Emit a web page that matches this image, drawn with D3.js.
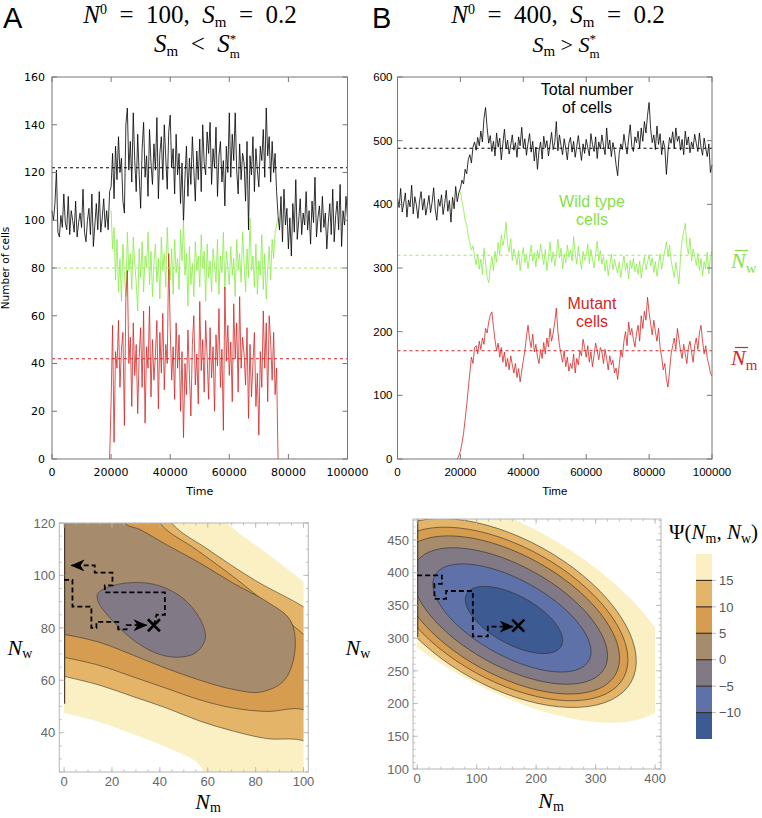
<!DOCTYPE html>
<html><head><meta charset="utf-8">
<script src="https://cdn.jsdelivr.net/npm/d3@7"></script>
<style>body{margin:0;background:#fff}text{white-space:pre}</style>
</head><body>
<script>
// ================= DATA =================
const tStep = 500;
const timeTicks = [0,20000,40000,60000,80000,100000];
const yTicksA = [0,20,40,60,80,100,120,140,160];
const yTicksB = [0,100,200,300,400,500,600];

// Panel A (N0=100) – total cells, t = 0 .. 100000
const aTotalStart = 0;
const aTotal = [
104,100,107,121,95,93,102,97,111,99,
96,110,94,104,100,95,108,93,99,103,
97,113,95,91,100,105,94,111,89,98,
107,96,112,95,101,109,97,104,96,112,
114,128,109,131,117,135,120,126,108,103,
140,147,121,133,116,145,125,112,136,119,
105,130,141,118,127,110,138,124,115,132,
121,143,109,128,135,117,140,126,113,137,
144,122,130,111,136,119,128,107,124,99,
118,131,110,126,115,135,121,108,129,117,
134,112,140,124,119,137,128,141,115,130,
122,139,110,127,133,116,125,106,131,120,
145,118,136,125,145,121,111,132,117,128,
124,108,133,96,127,119,135,112,130,121,
114,131,125,138,118,147,127,135,116,133,
120,128,112,
102,96,110,91,113,98,105,88,101,85,
107,95,117,92,100,109,94,103,98,112,
96,104,90,108,99,118,93,101,106,95,
110,97,103,88,99,107,94,113,91,102,
108,96,115,89,104,98,110,101];
// wild type, t = 20000 .. 76500
const aWildStart = 20000;
const aWild = [
104,88,97,75,92,70,84,66,90,77,
68,95,79,86,71,93,82,74,62,88,
76,91,70,85,80,95,73,87,68,82,
90,74,84,67,93,79,86,72,97,81,
75,88,69,92,78,84,71,96,83,100,
77,86,64,89,73,82,68,91,79,85,
72,94,80,87,66,90,76,83,70,88,
81,74,92,69,85,78,95,71,87,80,
73,89,77,84,68,92,79,86,74,95,
82,70,88,76,101,79,85,72,90,69,
83,77,94,71,86,67,80,89,75,92,
84,95,98,102];
// mutant, t = 19500 .. 76500
const aMutStart = 19500;
const aMut = [0,
24,56,7,45,38,58,30,46,53,14,
68,79,40,51,22,57,35,48,19,43,
55,30,62,15,47,38,64,26,50,33,
44,58,21,53,36,61,29,48,40,86,
55,33,47,25,57,38,52,20,45,9,
40,27,54,35,18,48,60,31,44,23,
66,37,50,28,58,43,25,55,34,47,
20,52,39,63,30,46,12,72,41,56,
35,49,24,65,42,57,28,68,38,51,
44,31,55,17,48,26,40,53,22,36,
10,45,30,62,38,57,24,60,49,33,
53,27,38,
0];
const aMeans = [122, 80, 42];

// Panel B (N0=400)
const bTotalStart = 0;
const bTotal = [
410,395,425,388,402,418,380,407,396,430,
385,412,399,378,405,420,391,409,383,398,
414,387,403,426,392,375,408,397,415,384,
401,422,389,406,372,411,393,428,404,418,
425,438,432,455,448,470,478,465,490,498,
485,505,492,515,498,535,552,520,496,508,
483,499,476,512,490,504,470,495,518,487,
501,479,493,509,485,497,474,506,492,521,
488,503,477,496,511,482,499,468,490,455,
484,498,471,507,489,500,476,494,513,486,
497,530,484,509,492,478,503,488,470,496,
505,482,499,474,491,508,487,469,495,480,
502,489,476,511,494,483,506,472,498,487,
509,492,478,520,488,501,475,497,484,462,
445,480,495,486,510,493,479,504,525,491,
483,506,497,515,488,520,499,530,512,540,
560,518,497,509,486,523,494,511,478,500,
489,447,482,505,496,514,488,520,499,507,
485,502,478,515,493,506,481,498,489,510,
496,483,512,490,477,504,488,475,495,450,
462];
const bWildStart = 20000;
const bWild = [
420,405,392,375,368,350,340,328,335,318,
305,322,298,314,290,331,308,285,277,300,
318,296,326,309,340,321,352,335,347,372,
338,325,346,312,330,319,305,327,296,315,
332,308,321,299,317,336,311,324,302,328,
314,337,320,305,329,296,318,341,309,325,
303,320,345,316,331,299,322,308,336,317,
328,311,349,323,306,334,315,298,326,312,
320,338,307,329,314,300,323,342,311,327,
306,318,295,313,288,305,322,297,314,301,
292,310,285,303,319,296,308,283,312,299,
315,294,306,290,311,284,302,318,297,309,
321,303,316,293,310,287,305,322,298,313,
327,341,318,336,312,298,285,309,292,275,
318,344,358,370,335,322,347,311,330,318,
304,323,296,315,287,310,299,325,291,318,
327];
const bMutStart = 19000;
const bMut = [0,5,
12,25,40,62,85,110,135,160,150,175,
178,165,185,172,190,180,205,198,215,226,
231,208,187,170,182,160,175,152,168,145,
158,140,162,148,135,150,128,142,121,138,
155,170,192,210,188,175,196,168,180,160,
150,172,158,183,165,190,176,205,185,198,
215,237,200,178,165,152,170,145,160,138,
150,142,165,135,158,148,170,162,188,175,
160,178,152,168,145,163,182,170,156,175,
168,150,172,158,140,162,148,155,135,143,
125,148,170,160,185,200,178,215,195,205,
188,176,198,210,185,225,205,232,218,254,
230,212,195,218,200,185,205,175,160,140,
150,125,113,138,165,178,190,172,205,188,
170,158,180,165,150,175,185,168,152,178,
190,172,198,210,185,165,178,158,148,135,
130];
const bMeans = [488, 320, 170];

// Potential Ψ levels and band colours
const psiLevels = [20, 15, 10, 5, 0, -5, -10];
const psiFill = ['#FBF0C4','#E4B569','#D69D50','#A68B6C','#817A86','#5E71A8','#3D5A93'];
const psiTicks = [15, 10, 5, 0, -5, -10];

// Panel A potential: region {Ψ < level} outlines as [Nm, Nw] points
const aRegion20 = [[-5,135],[55,135],[68,120],[84.7,108.5],[100,97.7],[112,89],[112,15],[62,15],[56.8,27.5],[42.8,34.4],[28.9,39.4],[14.9,44],[0,47.5],[-5,48.5]];
const aRegion15 = [[-5,135],[38,135],[45,120],[60,110],[80,98],[100,88],[112,80],[112,30],[100,36.9],[84.7,37.75],[70.7,40.6],[56.8,44.4],[42.8,49.4],[28.9,53.75],[14.9,58.1],[0,61.5],[-5,62.5]];
const aRegion10 = [[-5,135],[34,135],[40,120],[55,110],[70,100],[85,89],[100,77.5],[112,68],[112,40],[100,48.75],[84.7,48.1],[70.7,49.4],[56.8,52.5],[42.8,56.9],[29,61.25],[15,65.6],[0,68.75],[-5,69.5]];
const aRegion5 = [[-5,135],[20,135],[25.4,120],[31.7,117.5],[42.8,111.7],[56.8,104.7],[70.7,97],[84.7,90],[94.4,83],[96.5,72],[92,60],[82,55.5],[70.7,56.5],[56.8,60],[42.8,64.5],[29,69.5],[15,74.4],[0,77.5],[-5,78]];
const aRegion0 = [[14,93],[20,96],[30,97.3],[40,96],[50,91],[57,83],[59,76],[55,70.5],[47,68.8],[38,70.5],[28,76],[19,84],[14.5,89.5]];
const aRegions = [aRegion20, aRegion15, aRegion10, aRegion5, aRegion0];
const aMin = [37.5, 81];
const aPath1 = [[37.5,81],[38.6,85],[42.1,85],[42.1,93.5],[17,93.5],[17,96.2],[20.2,96.2],[20.2,101.1],[12.8,101.1],[12.8,103.8],[3.1,103.8]];
const aPath2 = [[0,98.3],[3.5,98.3],[3.5,88.1],[11.4,88.1],[11.4,80],[13.5,80],[13.5,82.25],[22.6,82.25],[22.6,79.4],[26.1,79.4],[26.1,81],[34.4,81]];

// Panel B potential: elliptic level sets — centre and semi-axis vectors per level, in (Nm, Nw) units
const bCentreNm = [146.0, 151.0, 152.7, 154.4, 156.1, 159.4, 162.8];
const bCentreNw = [349.1, 338.4, 336.9, 335.4, 333.8, 330.8, 327.7];
const bMajorNm = [279.5, 208.9, 194.2, 179.5, 158.9, 129.4, 79.4];
const bMajorNw = [-140.8, -105.2, -97.8, -90.4, -80.0, -65.2, -40.0];
const bMinorNm = [-66.9, -60.3, -54.6, -48.9, -40.8, -31.0, -19.6];
const bMinorNw = [-109.6, -98.9, -89.6, -80.2, -66.9, -50.8, -32.1];
const bMin = [170, 319];
const bPath = [[0,396],[41.5,396],[41.5,383],[29,383],[29,360],[48.7,360],[48.7,372],[93.6,372],[93.6,302.5],[118.8,302.5],[118.8,317.5],[160.8,317.5]];

// ================= DRAW =================
const svg = d3.select('body').append('svg').attr('width',762).attr('height',818);
const defs = svg.append('defs');
defs.append('marker').attr('id','arr').attr('markerUnits','userSpaceOnUse')
  .attr('markerWidth',16).attr('markerHeight',12).attr('refX',13).attr('refY',6).attr('orient','auto')
  .append('path').attr('d','M0,0 L14,6 L0,12 L4,6 Z').attr('fill','#000');

const pts = (t0, arr) => arr.map((v,i)=>({t:t0+i*tStep, v}));
const colTotal = '#000000', colWild = '#86EC44', colMut = '#D42626';

function drawTop(xs, ys, yTicks, series, means, font, fs, labelGap){
  const g = svg.append('g');
  const [xl,xr] = xs.range(), [yb,yt] = ys.range();
  series.forEach(s=>{
    g.append('path').attr('d', d3.line().x(d=>xs(d.t)).y(d=>ys(d.v))(s.pts))
      .attr('fill','none').attr('stroke',s.c).attr('stroke-width',0.8).attr('stroke-linejoin','round');
  });
  means.forEach(m=>{
    g.append('line').attr('x1',xl).attr('x2',xr).attr('y1',ys(m.v)).attr('y2',ys(m.v))
      .attr('stroke',m.c).attr('stroke-width',1.1).attr('stroke-dasharray','3,3');
  });
  g.append('rect').attr('x',xl).attr('y',yt).attr('width',xr-xl).attr('height',yb-yt)
    .attr('fill','none').attr('stroke','#777').attr('stroke-width',1);
  yTicks.forEach(v=>{
    const y = ys(v);
    g.append('line').attr('x1',xl).attr('x2',xl+5).attr('y1',y).attr('y2',y).attr('stroke','#777');
    g.append('line').attr('x1',xr).attr('x2',xr-5).attr('y1',y).attr('y2',y).attr('stroke','#777');
    g.append('text').attr('x',xl-labelGap).attr('y',y).attr('dy','0.36em').attr('text-anchor','end')
      .attr('font-family',font).attr('font-size',fs).text(v);
  });
  timeTicks.forEach(v=>{
    const x = xs(v);
    g.append('line').attr('x1',x).attr('x2',x).attr('y1',yb).attr('y2',yb-5).attr('stroke','#777');
    g.append('line').attr('x1',x).attr('x2',x).attr('y1',yt).attr('y2',yt+5).attr('stroke','#777');
    g.append('text').attr('x',x).attr('y',yb+17).attr('text-anchor','middle')
      .attr('font-family',font).attr('font-size',fs).text(v);
  });
  g.append('text').attr('x',(xl+xr)/2).attr('y',yb+36).attr('text-anchor','middle')
    .attr('font-family',font).attr('font-size',fs).text('Time');
}

// Panel A top
const xA = d3.scaleLinear().domain([0,100000]).range([52,347.5]);
const yA = d3.scaleLinear().domain([0,160]).range([459,77]);
drawTop(xA, yA, yTicksA,
  [{pts:pts(aTotalStart,aTotal),c:colTotal},{pts:pts(aWildStart,aWild),c:colWild},{pts:pts(aMutStart,aMut),c:colMut}],
  [{v:aMeans[0],c:'#000'},{v:aMeans[1],c:'#9BEA5E'},{v:aMeans[2],c:colMut}],
  'DejaVu Sans', 11, 7);
svg.append('text').attr('transform','translate(9,268) rotate(-90)').attr('text-anchor','middle')
  .attr('font-family','DejaVu Sans').attr('font-size',10.5).text('Number of cells');

// Panel B top
const xB = d3.scaleLinear().domain([0,100000]).range([397.5,712]);
const yB = d3.scaleLinear().domain([0,600]).range([459,77]);
drawTop(xB, yB, yTicksB,
  [{pts:pts(bTotalStart,bTotal),c:colTotal},{pts:pts(bWildStart,bWild),c:colWild},{pts:pts(bMutStart,bMut),c:colMut}],
  [{v:bMeans[0],c:'#000'},{v:bMeans[1],c:'#9BEA5E'},{v:bMeans[2],c:colMut}],
  'Liberation Sans', 11.5, 5);

// B annotations
function label(x,y,lines,color){
  lines.forEach((t,i)=>svg.append('text').attr('x',x).attr('y',y+i*18).attr('text-anchor','middle')
    .attr('font-family','Liberation Sans').attr('font-size',16).attr('fill',color).text(t));
}
label(587,95,['Total number','of cells'],'#000');
label(592,207,['Wild type','cells'],'#86E048');
label(592,309,['Mutant','cells'],'#D42626');

function barN(x,y,sub,color,fs){
  const t = svg.append('text').attr('x',x).attr('y',y).attr('font-family','Liberation Serif')
    .attr('font-size',fs).attr('fill',color);
  t.append('tspan').attr('font-style','italic').text('N');
  t.append('tspan').attr('dy',5).attr('font-size',fs*0.68).text(sub);
  svg.append('line').attr('x1',x+4).attr('x2',x+17).attr('y1',y-17.5).attr('y2',y-17.5)
    .attr('stroke',color).attr('stroke-width',1.2);
}
barN(731,268,'w','#86E048',22);
barN(731,365,'m','#D42626',22);

// Titles
function mathTitle(x,y,html,fs){
  svg.append('text').attr('x',x).attr('y',y).attr('text-anchor','middle')
    .attr('font-family','Liberation Serif').attr('font-size',fs).html(html);
}
const Sm = '<tspan font-style="italic">S</tspan><tspan dy="4" font-size="15">m</tspan><tspan dy="-4">';
const Sstar = '<tspan font-style="italic">S</tspan><tspan dy="-9" font-size="13">*</tspan><tspan dx="-6.5" dy="15" font-size="13">m</tspan>';
const eq = '\u2002=\u2002';
const N0 = '<tspan font-style="italic">N</tspan><tspan dy="-9" font-size="14">0</tspan><tspan dy="9">';
mathTitle(190,23,N0+eq+'100,\u2002</tspan>'+Sm+eq+'0.2</tspan>',25);
mathTitle(197,52,Sm+'\u2002&lt;\u2002</tspan>'+Sstar,25);
mathTitle(558,23,N0+eq+'400,\u2002</tspan>'+Sm+eq+'0.2</tspan>',25);
mathTitle(566,52,Sm+' &gt; </tspan>'+Sstar,22);
svg.append('text').attr('x',3).attr('y',28).attr('font-family','Liberation Sans').attr('font-size',29).text('A');
svg.append('text').attr('x',372).attr('y',28).attr('font-family','Liberation Sans').attr('font-size',29).text('B');

// ---------- contour panels ----------
function frameAxes(g, xs, ys, xMaj, xMin, yMaj, yMin){
  const [xl,xr] = xs.range(), [yb,yt] = ys.range();
  g.append('rect').attr('x',xl).attr('y',yt).attr('width',xr-xl).attr('height',yb-yt)
    .attr('fill','none').attr('stroke','#b5b5b5').attr('stroke-width',1);
  const tk = (x1,y1,x2,y2)=>g.append('line').attr('x1',x1).attr('y1',y1).attr('x2',x2).attr('y2',y2).attr('stroke','#b5b5b5').attr('stroke-width',0.8);
  xMin.forEach(v=>{const x=xs(v); tk(x,yb,x,yb-2.5); tk(x,yt,x,yt+2.5);});
  xMaj.forEach(v=>{const x=xs(v); tk(x,yb,x,yb-5); tk(x,yt,x,yt+5);
    g.append('text').attr('x',x).attr('y',yb+14).attr('text-anchor','middle').attr('font-family','Liberation Sans')
      .attr('font-size',13).attr('fill','#666').text(v);});
  yMin.forEach(v=>{const y=ys(v); tk(xl,y,xl+2.5,y); tk(xr,y,xr-2.5,y);});
  yMaj.forEach(v=>{const y=ys(v); tk(xl,y,xl+5,y); tk(xr,y,xr-5,y);
    g.append('text').attr('x',xl-4).attr('y',y).attr('dy','0.36em').attr('text-anchor','end').attr('font-family','Liberation Sans')
      .attr('font-size',13).attr('fill','#666').text(v);});
}
function axisLabel(x,y,sub){
  const t = svg.append('text').attr('x',x).attr('y',y).attr('text-anchor','middle')
    .attr('font-family','Liberation Serif').attr('font-size',22);
  t.append('tspan').attr('font-style','italic').text('N');
  t.append('tspan').attr('dy',3).attr('font-size',14).text(sub);
}
function xMark(g,x,y){
  g.append('line').attr('x1',x-6).attr('y1',y-6).attr('x2',x+6).attr('y2',y+6).attr('stroke','#000').attr('stroke-width',2.6);
  g.append('line').attr('x1',x-6).attr('y1',y+6).attr('x2',x+6).attr('y2',y-6).attr('stroke','#000').attr('stroke-width',2.6);
}

// Panel A bottom
const xCA = d3.scaleLinear().domain([-2,102]).range([59.3,308.3]);
const yCA = d3.scaleLinear().domain([25,120]).range([772,523]);
defs.append('clipPath').attr('id','clipA').append('rect')
  .attr('x',xCA(0)).attr('y',yCA(120)).attr('width',xCA(100)-xCA(0)).attr('height',yCA(25)-yCA(120));
const gA = svg.append('g');
const gAc = gA.append('g').attr('clip-path','url(#clipA)');
const lineA = d3.line().x(d=>xCA(d[0])).y(d=>yCA(d[1])).curve(d3.curveCatmullRomClosed.alpha(0.5));
aRegions.forEach((r,i)=>{
  gAc.append('path').attr('d',lineA(r)).attr('fill',psiFill[i])
    .attr('stroke', i===0 ? 'none' : '#3b3226').attr('stroke-width',0.7).attr('stroke-opacity',0.85);
});
gAc.append('line').attr('x1',xCA(0)+0.5).attr('x2',xCA(0)+0.5).attr('y1',yCA(120)).attr('y2',yCA(51))
  .attr('stroke','#3b3226').attr('stroke-width',1.2);
const pathLine = d3.line().x(d=>d[0]).y(d=>d[1]);
gA.append('path').attr('d',pathLine(aPath1.map(d=>[xCA(d[0]),yCA(d[1])]))).attr('fill','none')
  .attr('stroke','#000').attr('stroke-width',1.8).attr('stroke-dasharray','5,3').attr('marker-end','url(#arr)');
gA.append('path').attr('d',pathLine(aPath2.map(d=>[xCA(d[0]),yCA(d[1])]))).attr('fill','none')
  .attr('stroke','#000').attr('stroke-width',1.8).attr('stroke-dasharray','5,3').attr('marker-end','url(#arr)');
xMark(gA, xCA(aMin[0]), yCA(aMin[1]));
frameAxes(gA, xCA, yCA, [0,20,40,60,80,100], d3.range(0,101,5), [40,60,80,100,120], d3.range(25,121,5));
axisLabel(208,809,'m');
axisLabel(20,655,'w');

// Panel B bottom
const xCB = d3.scaleLinear().domain([-7,410]).range([413,661]);
const yCB = d3.scaleLinear().domain([100,482]).range([769,519]);
defs.append('clipPath').attr('id','clipB').append('rect')
  .attr('x',xCB(0)).attr('y',yCB(482)).attr('width',xCB(400)-xCB(0)).attr('height',yCB(100)-yCB(482));
const gB = svg.append('g');
const gBc = gB.append('g').attr('clip-path','url(#clipB)');
const angles = d3.range(0, 2*Math.PI, Math.PI/36);
psiLevels.forEach((L,i)=>{
  const poly = angles.map(a=>[bCentreNm[i]+Math.cos(a)*bMajorNm[i]+Math.sin(a)*bMinorNm[i],
                             bCentreNw[i]+Math.cos(a)*bMajorNw[i]+Math.sin(a)*bMinorNw[i]]);
  gBc.append('path').attr('d', d3.line().x(d=>xCB(d[0])).y(d=>yCB(d[1])).curve(d3.curveLinearClosed)(poly))
    .attr('fill',psiFill[i]).attr('stroke', i===0 ? 'none' : '#2e2a26').attr('stroke-width',0.7).attr('stroke-opacity',0.85);
});
gBc.append('line').attr('x1',xCB(0)+0.5).attr('x2',xCB(0)+0.5).attr('y1',yCB(482)).attr('y2',yCB(302))
  .attr('stroke','#3b3226').attr('stroke-width',1.2);
gB.append('path').attr('d',pathLine(bPath.map(d=>[xCB(d[0]),yCB(d[1])]))).attr('fill','none')
  .attr('stroke','#000').attr('stroke-width',1.8).attr('stroke-dasharray','5,3').attr('marker-end','url(#arr)');
xMark(gB, xCB(bMin[0]), yCB(bMin[1]));
frameAxes(gB, xCB, yCB, [0,100,200,300,400], d3.range(0,401,20), [100,150,200,250,300,350,400,450], d3.range(100,481,10));
axisLabel(551,808,'m');
axisLabel(358,655,'w');

// Colour bar
const yBar = d3.scaleLinear().domain([-15,20]).range([739,554]);
const gC = svg.append('g');
psiLevels.forEach((L,i)=>{
  gC.append('rect').attr('x',696).attr('width',16).attr('y',yBar(L)).attr('height',yBar(L-5)-yBar(L)).attr('fill',psiFill[i]);
});
psiTicks.forEach(v=>{
  gC.append('line').attr('x1',696).attr('x2',712).attr('y1',yBar(v)).attr('y2',yBar(v)).attr('stroke','#3b3226').attr('stroke-width',1.2);
  gC.append('line').attr('x1',712).attr('x2',716).attr('y1',yBar(v)).attr('y2',yBar(v)).attr('stroke','#aaa').attr('stroke-width',0.8);
  gC.append('text').attr('x',719).attr('y',yBar(v)).attr('dy','0.36em').attr('font-family','Liberation Sans')
    .attr('font-size',13).attr('fill','#555').text(v<0 ? '\u2212'+(-v) : v);
});
const psiT = gC.append('text').attr('x',669).attr('y',539).attr('font-family','Liberation Serif').attr('font-size',21);
psiT.append('tspan').text('\u03A8(');
psiT.append('tspan').attr('font-style','italic').text('N');
psiT.append('tspan').attr('dy',4).attr('font-size',14).text('m');
psiT.append('tspan').attr('dy',-4).text(', ');
psiT.append('tspan').attr('font-style','italic').text('N');
psiT.append('tspan').attr('dy',4).attr('font-size',14).text('w');
psiT.append('tspan').attr('dy',-4).text(')');
</script>
</body></html>
